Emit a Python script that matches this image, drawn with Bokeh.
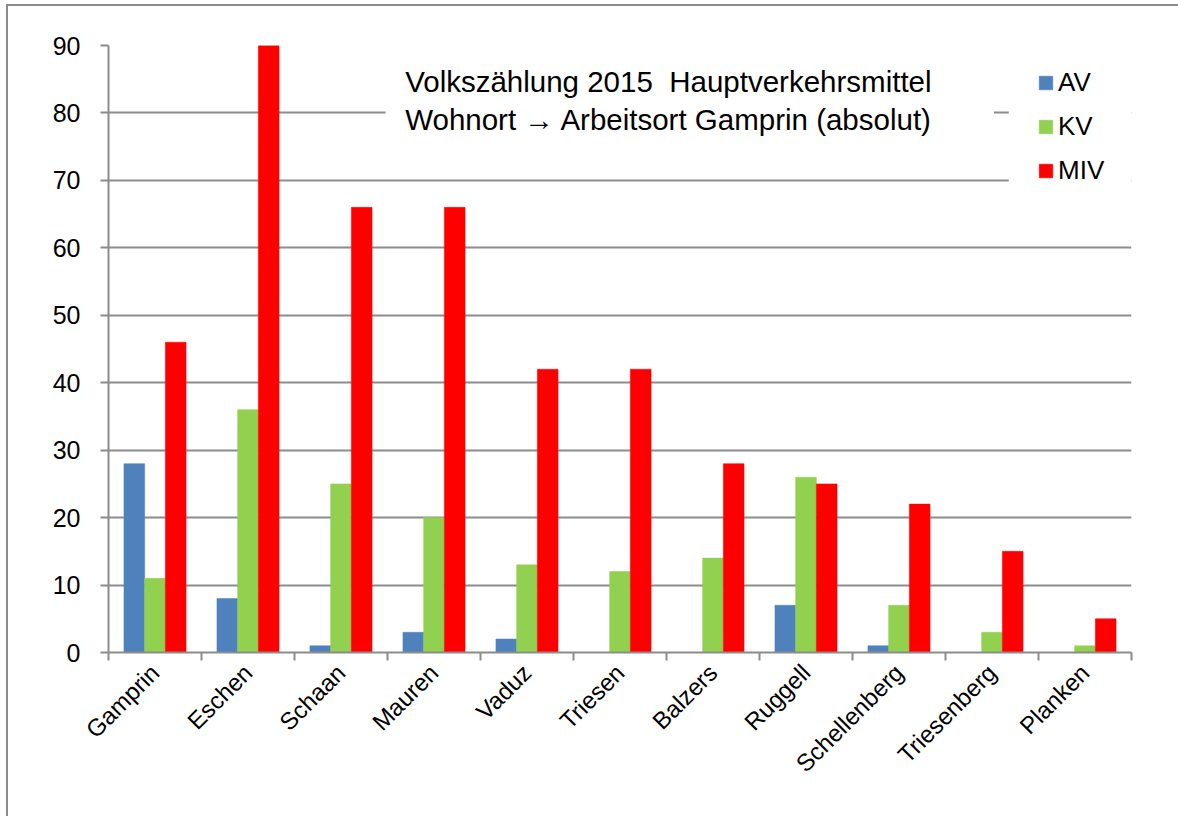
from math import pi
from bokeh.plotting import figure
from bokeh.models import (ColumnDataSource, Range1d, FixedTicker, BoxAnnotation,
                          Label, Legend, LegendItem, InlineStyleSheet)
from bokeh.embed import file_html
from bokeh.resources import INLINE

categories = ["Gamprin", "Eschen", "Schaan", "Mauren", "Vaduz", "Triesen",
              "Balzers", "Ruggell", "Schellenberg", "Triesenberg", "Planken"]
av = [28, 8, 1, 3, 2, 0, 0, 7, 1, 0, 0]
kv = [11, 36, 25, 20, 13, 12, 14, 26, 7, 3, 1]
miv = [46, 90, 66, 66, 42, 42, 28, 25, 22, 15, 5]
series_names = ["AV", "KV", "MIV"]
series_colors = ["#4F81BD", "#92D050", "#FF0000"]
y_ticks = [0, 10, 20, 30, 40, 50, 60, 70, 80, 90]
title_lines = ["Volkszählung 2015\u00a0 Hauptverkehrsmittel",
               "Wohnort \u2192 Arbeitsort Gamprin (absolut)"]

FONT = "Liberation Sans"
GRAY = "#8c8c8c"
W, H = 1162, 800

p = figure(width=W, height=H, output_backend="svg", toolbar_location=None,
           x_range=Range1d(0, len(categories)), y_range=Range1d(0, 90),
           min_border_left=108, min_border_right=W - 1131, min_border_top=45,
           min_border_bottom=H - 652)
p.outline_line_color = None
p.background_fill_color = "white"
p.border_fill_color = "white"

idx = list(range(len(categories)))
bar_w = 0.2226
renderers = []
for k, (vals, col) in enumerate(zip([av, kv, miv], series_colors)):
    off = (k - 1) * bar_w
    src = ColumnDataSource(dict(x=[i + 0.5 + off for i in idx], top=vals,
                                cat=categories))
    r = p.vbar(x="x", top="top", width=bar_w, source=src, fill_color=col,
               line_color=col, line_width=0.5)
    renderers.append(r)

# grid
p.xgrid.grid_line_color = None
p.ygrid.grid_line_color = GRAY
p.ygrid.grid_line_width = 2

# y axis
yax = p.yaxis[0]
yax.ticker = FixedTicker(ticks=y_ticks)
yax.axis_line_color = GRAY
yax.axis_line_width = 2
yax.major_tick_line_color = GRAY
yax.major_tick_line_width = 2
yax.major_tick_out = 8
yax.major_tick_in = 0
yax.minor_tick_line_color = None
yax.major_label_text_font = FONT
yax.major_label_text_font_size = "25px"
yax.major_label_text_color = "black"
yax.major_label_standoff = 20

# x axis
xax = p.xaxis[0]
xax.ticker = FixedTicker(ticks=[i + 0.5 for i in idx],
                         minor_ticks=list(range(len(categories) + 1)))
xax.major_label_overrides = {i + 0.5: c for i, c in zip(idx, categories)}
xax.axis_line_color = GRAY
xax.axis_line_width = 2
xax.major_tick_line_color = None
xax.major_tick_out = 0
xax.major_tick_in = 0
xax.minor_tick_line_color = GRAY
xax.minor_tick_line_width = 2
xax.minor_tick_out = 8
xax.minor_tick_in = 0
xax.major_label_orientation = pi / 4
xax.major_label_text_font = FONT
xax.major_label_text_font_size = "24px"
xax.major_label_text_color = "black"
xax.major_label_standoff = 8

# title box (white, covering gridlines)
p.add_layout(BoxAnnotation(left=2.98, right=9.52, top=88.0, bottom=74.5,
                           fill_color="white", fill_alpha=1.0,
                           line_color=None, level="annotation"))
p.add_layout(Label(x=3.19, y=87.05, text="\n".join(title_lines),
                   text_font=FONT, text_font_size="29.5px", text_color="black",
                   text_baseline="top", text_align="left",
                   text_line_height=1.15))

# legend area
p.add_layout(BoxAnnotation(left=9.68, right=11, top=88.2, bottom=68.2,
                           fill_color="white", fill_alpha=1.0,
                           line_color=None, level="annotation"))
legend = Legend(items=[LegendItem(label=n, renderers=[r])
                       for n, r in zip(series_names, renderers)],
                location=(929, 466), padding=0, margin=0,
                glyph_width=17, glyph_height=17, label_height=26,
                spacing=13, label_standoff=4,
                label_text_font=FONT, label_text_font_size="26px",
                label_text_color="black",
                background_fill_alpha=0, border_line_color=None)
p.add_layout(legend)

# outer chart border (left and top), drawn over the figure's host element
p.stylesheets = [InlineStyleSheet(css=(
    ":host { position: relative; overflow: visible; }"
    ":host::after { content: ''; position: absolute; left: 6px; top: 4px;"
    " right: -16px; bottom: -16px; border-left: 2px solid #8c8c8c;"
    " border-top: 2px solid #8c8c8c; pointer-events: none; z-index: 10; }"))]

open("out.html", "w").write(file_html(p, INLINE))
